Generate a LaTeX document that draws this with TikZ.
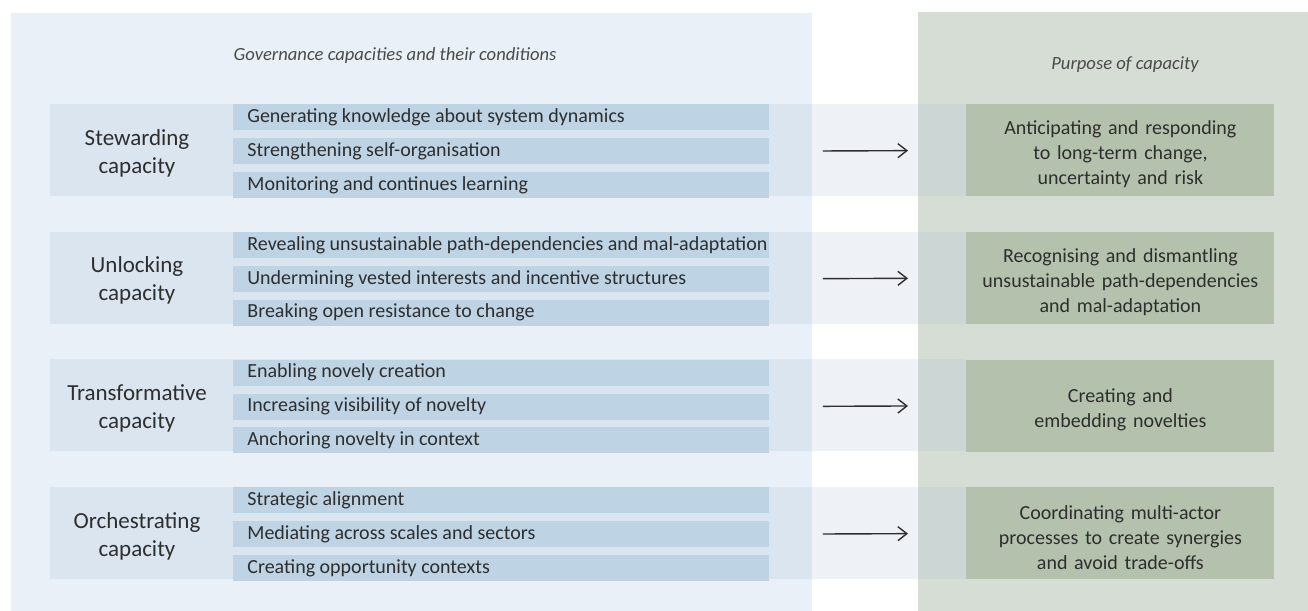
\documentclass[tikz,border=0pt]{standalone}
\usepackage{fontspec}
\setmainfont{Carlito}
\usepackage{tikz}
\usetikzlibrary{positioning,arrows.meta}

\definecolor{panelblue}{HTML}{E9F0F7}
\definecolor{panelgreen}{HTML}{D6DDD5}
\definecolor{condblue}{HTML}{BED3E4}
\definecolor{purpgreen}{HTML}{B4C1AD}
\definecolor{bandblue}{HTML}{9FB8D0}
\definecolor{txt}{HTML}{2E2E2E}
\definecolor{headgrey}{HTML}{4A4A4A}

\begin{document}
\begin{tikzpicture}[x=0.5pt,y=-0.5pt,
    cond/.style={fill=condblue,anchor=north west,minimum height=13pt,inner xsep=7pt,inner ysep=0pt,
        font=\fontsize{10}{12}\selectfont,text=txt},
    purp/.style={fill=purpgreen,anchor=north west,minimum width=154pt,minimum height=46pt,inner sep=0pt,
        text width=150pt,align=center,font=\fontsize{10}{12.5}\selectfont,text=txt,
        execute at begin node=\rule{0pt}{11pt}},
    capa/.style={align=center,font=\fontsize{11.5}{14}\selectfont,text=txt},
    head/.style={font=\fontsize{9.3}{11}\selectfont\itshape,text=headgrey},
    arr/.style={-{Straight Barb[length=4.5pt,width=7pt]},line width=0.7pt,draw=txt,
        shorten <=26.5pt,shorten >=29pt}]
    \useasboundingbox (0,0) rectangle (1308,611);
    \fill[panelblue] (11,13) rectangle (812,611);
    \fill[panelgreen] (918,12) rectangle (1308,611);
    \node[head] (headL) at (395,56) {Governance capacities and their conditions};
    \node[head] (headR) at (1125,65) {Purpose of capacity};

    \foreach \i/\capname/\ctxa/\ctxb/\ctxc/\pur in {
        1/{Stewarding\\capacity}/{Generating knowledge about system dynamics}/{Strengthening self-organisation}/{Monitoring and continues learning}/{Anticipating and responding\\to long-term change,\\uncertainty and risk},
        2/{Unlocking\\capacity}/{Revealing unsustainable path-dependencies and mal-adaptation}/{Undermining vested interests and incentive structures}/{Breaking open resistance to change}/{Recognising and dismantling\\unsustainable path-dependencies\\and mal-adaptation},
        3/{Transformative\\capacity}/{Enabling novely creation}/{Increasing visibility of novelty}/{Anchoring novelty in context}/{Creating and\\embedding novelties},
        4/{Orchestrating\\capacity}/{Strategic alignment}/{Mediating across scales and sectors}/{Creating opportunity contexts}/{Coordinating multi-actor\\processes to create synergies\\and avoid trade-offs}}{
        \pgfmathsetmacro\gtop{104+127.67*(\i-1)}
        \fill[bandblue,opacity=0.18] (50,\gtop) rectangle (966,\gtop+92);
        \node[cond] (cnd-\i-a) at (233,\gtop) {\makebox[254pt][l]{\ctxa}};
        \node[cond,below=3.5pt of cnd-\i-a] (cnd-\i-b) {\makebox[254pt][l]{\ctxb}};
        \node[cond,below=3.5pt of cnd-\i-b] (cnd-\i-c) {\makebox[254pt][l]{\ctxc}};
        \node[capa] (cap-\i) at (137,\gtop+49) {\capname};
        \node[purp] (pur-\i) at (966,\gtop) {\pur};
        \draw[arr] (cnd-\i-b.east) -- (pur-\i.west);
        }
\end{tikzpicture}
\end{document}
